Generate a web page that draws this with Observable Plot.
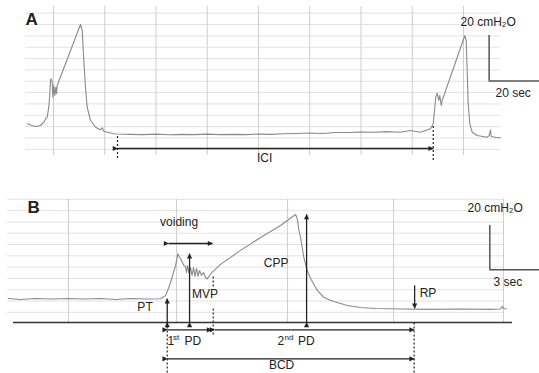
<!DOCTYPE html>
<html><head><meta charset="utf-8">
<script src="https://cdn.jsdelivr.net/npm/d3@7"></script>
<script src="https://cdn.jsdelivr.net/npm/@observablehq/plot@0.6"></script>
<style>
body{margin:0;background:#fff;}
#chart svg{display:block;}
</style></head><body><div id="chart"></div>
<script>
// ---------- Panel A (time in s, pressure in cmH2O) ----------
const traceA_t = [9.74,11.02,12.98,14.93,16.21,16.88,17.54,18.17,18.56,18.83,19.10,19.49,19.73,20.12,20.51,20.90,21.17,21.44,30.54,31.20,31.82,32.49,33.15,34.44,36.39,38.34,39.00,39.63,43.53,44.98,50,55,60,65,70,75,80,85,90,95,100,105,110,115,120,125,130,135,140,145,150,155.41,159.32,163.22,167.12,168.18,168.80,169.19,169.74,170.36,170.75,171.30,171.69,180.51,181.05,181.44,181.83,182.46,183.40,185.35,189.25,190.03,190.54,190.81,192.49,194.44];
const traceA_p = [6.26,5.73,5.07,5.51,6.96,8.46,9.16,13.57,19.47,25.33,26.08,24.58,17.97,23.13,18.72,22.38,19.47,23.13,50.0,47.36,34.14,22.38,13.57,7.71,4.76,3.61,4.49,3.0,1.85,1.76,1.6,1.5,1.7,1.4,1.6,1.5,1.7,1.5,1.6,1.5,1.7,1.6,1.9,2.0,2.2,2.0,2.4,2.4,2.6,2.5,2.8,2.56,3.30,2.56,4.05,6.26,13.57,17.97,19.74,16.52,18.72,14.32,16.52,45.15,42.95,29.74,15.07,6.26,2.56,1.10,0.35,1.10,3.61,0.66,0.35,0.09];
const gridA_t = [20,40,60,80,100,120,140,160,180];
const gridA_p = [-5,0,5,10,15,20,25,30,35,40,45,50,55];
const iciStart = 44.98, iciEnd = 168.2, iciLevel = -4.63;
const scaleA = {t: 190.0, pTop: 45.15, pBottom: 25.1, tEnd: 209.66};

// ---------- Panel B ----------
const traceB_t = [0,0.72,1.62,2.52,3.60,4.62,5.52,6.42,7.32,8.22,9.12,9.42,9.62,9.82,9.92,9.96,10.02,10.08,10.16,10.23,10.32,10.52,10.62,10.68,10.74,10.83,10.92,11.01,11.10,11.19,11.28,11.37,11.46,11.58,11.70,11.82,11.92,12.06,12.22,12.72,13.92,15.12,16.32,17.22,17.32,17.42,17.52,17.71,17.92,18.12,18.52,18.90,19.32,20.32,21.12,22.02,23.52,25.32,27.11,28.91,29.51,29.63,29.69,29.87];
const traceB_p = [10.6,10.2,10.6,10.4,10.6,10.4,10.6,10.2,10.6,10.4,10.5,11.9,15.6,20.0,23.0,23.5,25.2,27.4,30.4,29.2,28.2,25.2,24.8,22.1,25.2,21.7,24.3,20.8,24.3,20.4,23.9,20.4,23.0,20.8,22.1,19.9,19.3,20.8,22.3,25.7,31.9,37.6,42.9,47.8,45.9,40.7,37.7,28.9,23.0,19.5,14.2,11.2,9.7,7.5,6.6,6.2,6.0,5.8,6.0,5.8,6.0,7.1,6.2,6.0];
const gridB_t = [3.60,10.08,16.74,23.10,29.69];
const gridB_p = [4.5,9.5,14.5,19.5,24.5,29.5,34.5,39.5,44.5,49.5,54.5];
const arrowName = ["voiding","PT","peak","CPP","1st PD","2nd PD","BCD"];
const arrowT1 = [9.60, 9.52, 10.86, 17.88, 9.52, 12.36, 9.52];
const arrowP1 = [34.96, 0, 0, 0, -3.23, -3.23, -16.06];
const arrowT2 = [12.24, 9.52, 10.86, 17.88, 12.18, 24.33, 24.33];
const arrowP2 = [34.96, 10.5, 30.4, 47.8, -3.23, -3.23, -16.06];
const rpArrow = {t: 24.36, p1: 16.4, p2: 6.3};
const dashT = [9.52, 24.33, 12.28, 12.28];
const dashP1 = [0, 0, 20.4, 6.2];
const dashP2 = [-22.6, -22.6, 15.0, -5.3];
const scaleB = {t: 28.87, pTop: 42.9, pBottom: 23.3, tEnd: 31.85};

const FONT = "'Liberation Sans', Arial, Helvetica, sans-serif";
const INK = "#222";
const GRIDH = "#e2e2e2", GRIDV = "#cdcdcd", TRACE = "#8a8a8a";

const rowsA = traceA_t.map((t, i) => ({t, p: traceA_p[i]}));
const rowsB = traceB_t.map((t, i) => ({t, p: traceB_p[i]}));
const arrows = arrowName.map((n, i) => ({n, t1: arrowT1[i], p1: arrowP1[i], t2: arrowT2[i], p2: arrowP2[i]}));
const dashes = dashT.map((t, i) => ({t, p1: dashP1[i], p2: dashP2[i]}));

function fixMarkers(svg) {
  svg.querySelectorAll("marker").forEach(m => {
    m.setAttribute("overflow", "visible");
    const col = m.getAttribute("stroke") || INK;
    m.setAttribute("fill", col);
    m.setAttribute("stroke", "none");
    const path = m.querySelector("path");
    if (path) path.setAttribute("d", "M-5.5,-3L0.5,0L-5.5,3Z");
  });
  return svg;
}

const txt = (data, opts) => Plot.text(data, {fontFamily: FONT, fill: INK, ...opts});

const plotA = Plot.plot({
  width: 539, height: 175, margin: 0,
  x: {domain: [-0.683, 209.66], axis: null},
  y: {domain: [-16.52, 60.57], axis: null},
  style: {fontFamily: FONT, background: "#fff"},
  marks: [
    Plot.ruleY(gridA_p, {y: d => d, x1: () => 9.07, x2: () => 194.44, stroke: GRIDH, strokeWidth: 1}),
    Plot.ruleX(gridA_t, {x: d => d, y1: () => 57.9, y2: () => -7.7, stroke: GRIDV, strokeWidth: 1}),
    Plot.line(rowsA, {x: "t", y: "p", stroke: TRACE, strokeWidth: 1.1}),
    Plot.ruleX([iciStart, iciEnd], {x: d => d, y1: (d, i) => i ? 5.07 : 0.66, y2: (d, i) => i ? -9.91 : -9.03, stroke: INK, strokeDasharray: "2,2", strokeWidth: 1.2}),
    Plot.link([0], {x1: () => iciStart, x2: () => iciEnd, y1: () => iciLevel, y2: () => iciLevel, stroke: INK, strokeWidth: 1.3, markerStart: "arrow", markerEnd: "arrow"}),
    Plot.ruleX([scaleA.t], {x: d => d, y1: () => scaleA.pTop, y2: () => scaleA.pBottom, stroke: "#555", strokeWidth: 1.5}),
    Plot.ruleY([scaleA.pBottom], {y: d => d, x1: () => scaleA.t, x2: () => scaleA.tEnd, stroke: "#555", strokeWidth: 1.5}),
    txt(["A"], {x: () => 9.07, y: () => 52.2, text: d => d, textAnchor: "start", fontSize: 17, fontWeight: "bold"}),
    txt(["ICI"], {x: () => 102.4, y: () => -8.81, text: d => d, fontSize: 12}),
    txt(["20 cmH₂O"], {x: () => 178.83, y: () => 50.9, text: d => d, textAnchor: "start", fontSize: 12}),
    txt(["20 sec"], {x: () => 192.49, y: () => 19.8, text: d => d, textAnchor: "start", fontSize: 12})
  ]
});

const plotB = Plot.plot({
  width: 539, height: 198, margin: 0,
  x: {domain: [-0.48, 31.85], axis: null},
  y: {domain: [-22.57, 65.04], axis: null},
  style: {fontFamily: FONT, background: "#fff"},
  marks: [
    Plot.ruleY(gridB_p, {y: d => d, x1: () => -0.06, x2: () => 29.75, stroke: GRIDH, strokeWidth: 1}),
    Plot.ruleX(gridB_t, {x: d => d, y1: () => 0, y2: () => 54.5, stroke: GRIDV, strokeWidth: 1}),
    Plot.line(rowsB, {x: "t", y: "p", stroke: TRACE, strokeWidth: 1.1}),
    Plot.ruleY([0], {y: d => d, x1: () => 0.30, x2: () => 30.23, stroke: "#333", strokeWidth: 1.6}),
    Plot.link(dashes, {x1: "t", x2: "t", y1: "p1", y2: "p2", stroke: INK, strokeDasharray: "2,2", strokeWidth: 1.2}),
    Plot.link(arrows, {x1: "t1", y1: "p1", x2: "t2", y2: "p2", stroke: INK, strokeWidth: 1.3, markerStart: "arrow", markerEnd: "arrow"}),
    Plot.link([rpArrow], {x1: "t", x2: "t", y1: "p1", y2: "p2", stroke: INK, strokeWidth: 1.3, markerEnd: "arrow"}),
    Plot.ruleX([scaleB.t], {x: d => d, y1: () => scaleB.pTop, y2: () => scaleB.pBottom, stroke: "#555", strokeWidth: 1.5}),
    Plot.ruleY([scaleB.pBottom], {y: d => d, x1: () => scaleB.t, x2: () => scaleB.tEnd, stroke: "#555", strokeWidth: 1.5}),
    txt(["B"], {x: () => 1.14, y: () => 50.7, text: d => d, textAnchor: "start", fontSize: 17, fontWeight: "bold"}),
    txt(["voiding"], {x: () => 10.23, y: () => 44.2, text: d => d, fontSize: 12}),
    txt(["PT"], {x: () => 8.19, y: () => 6.64, text: d => d, fontSize: 12}),
    txt(["MVP"], {x: () => 11.79, y: () => 12.4, text: d => d, fontSize: 12}),
    txt(["CPP"], {x: () => 16.05, y: () => 26.4, text: d => d, fontSize: 12}),
    txt(["RP"], {x: () => 24.66, y: () => 13.05, text: d => d, textAnchor: "start", fontSize: 12}),
    txt(["1", "2"], {x: (d, i) => i ? 16.14 : 9.54, y: () => -8.4, text: d => d, textAnchor: "start", fontSize: 12}),
    txt(["st", "nd"], {x: (d, i) => i ? 16.56 : 9.87, y: () => -6.5, text: d => d, textAnchor: "start", fontSize: 8}),
    txt(["PD", "PD"], {x: (d, i) => i ? 17.37 : 10.56, y: () => -8.4, text: d => d, textAnchor: "start", fontSize: 12}),
    txt(["BCD"], {x: () => 16.38, y: () => -19.0, text: d => d, fontSize: 12}),
    txt(["20 cmH₂O"], {x: () => 27.53, y: () => 50.6, text: d => d, textAnchor: "start", fontSize: 12}),
    txt(["3 sec"], {x: () => 29.09, y: () => 17.9, text: d => d, textAnchor: "start", fontSize: 12})
  ]
});

const root = document.getElementById("chart");
root.append(fixMarkers(plotA), fixMarkers(plotB));
</script>
</body></html>
